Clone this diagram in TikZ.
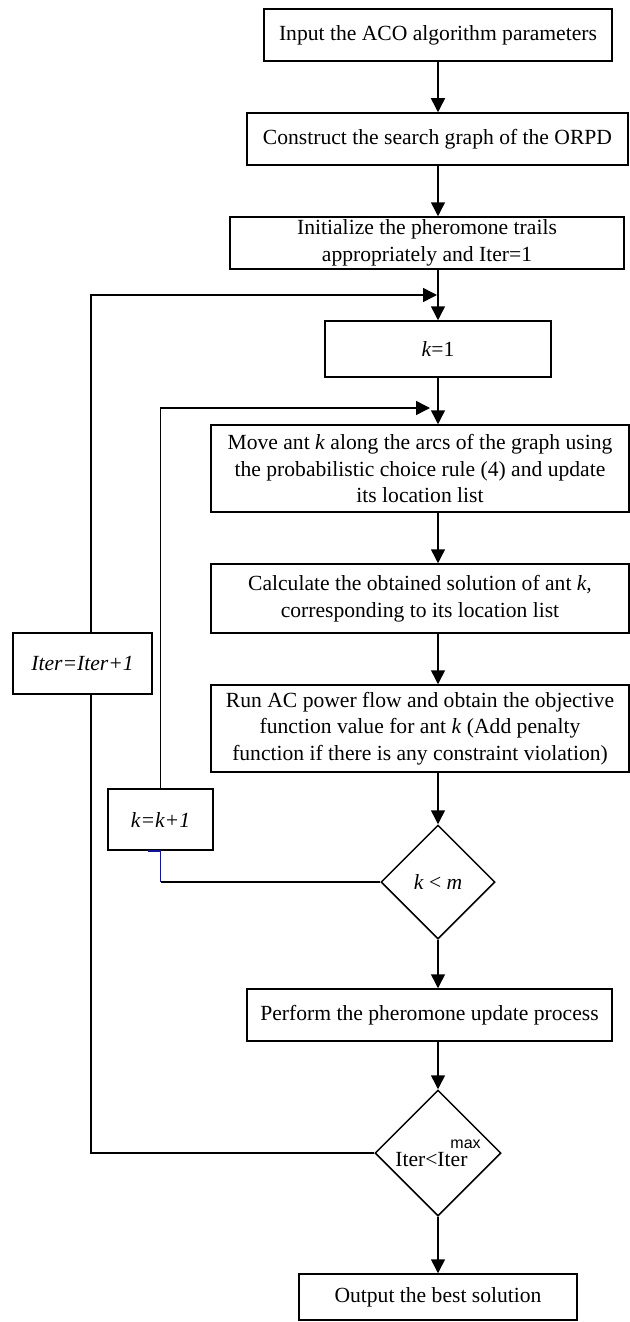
\documentclass[tikz,border=0pt]{standalone}
\usepackage{fontspec}
\setmainfont{Liberation Serif}
\newfontfamily\supfont{Liberation Sans}
\usetikzlibrary{shapes.geometric,arrows.meta}
\definecolor{segblue}{RGB}{20,20,150}

\begin{document}
\begin{tikzpicture}[x=0.5pt, y=-0.5pt, font=\fontsize{10.8}{13.3}\selectfont,
  blk/.style={draw, line width=0.75pt, inner sep=0pt, align=center},
  dec/.style={draw, diamond, line width=0.75pt, inner sep=0pt, aspect=1},
  arr/.style={line width=0.75pt, -{Triangle[length=7pt,width=7pt]}},
  ln/.style={line width=0.75pt}]
% ACO steps for the ORPD, placed at pixel positions
\useasboundingbox (0,0) rectangle (630,1322);
\node[blk, minimum width=174pt, minimum height=26pt] (inp) at (438,35) {Input the ACO algorithm parameters};
\node[blk, minimum width=190.5pt, minimum height=26pt] (cons) at (437.5,139) {Construct the search graph of the ORPD};
\node[blk, minimum width=197pt, minimum height=26pt] (init) at (427,243) {Initialize the pheromone trails\\appropriately and Iter=1};
\node[blk, minimum width=113pt, minimum height=28pt] (kone) at (438,349) {\textit{k}=1};
\node[blk, minimum width=209pt, minimum height=43.5pt] (move) at (420,468.5) {Move ant \textit{k} along the arcs of the graph using\\the probabilistic choice rule (4) and update\\its location list};
\node[blk, minimum width=209pt, minimum height=34.5pt] (calc) at (420,598.5) {Calculate the obtained solution of ant \textit{k},\\corresponding to its location list};
\node[blk, minimum width=209pt, minimum height=43.5pt] (run) at (420,728.5) {Run AC power flow and obtain the objective\\function value for ant \textit{k} (Add penalty\\function if there is any constraint violation)};
\node[dec, minimum width=57pt, minimum height=57pt] (kdec) at (438,882) {\textit{k} < \textit{m}};
\node[blk, minimum width=52.5pt, minimum height=30.5pt] (kinc) at (160.5,819.5) {\textit{k=k+1}};
\node[blk, minimum width=69.5pt, minimum height=30.5pt] (iterinc) at (82.5,663.5) {\textit{Iter=Iter+1}};
\node[blk, minimum width=182.5pt, minimum height=26pt] (perf) at (429.5,1015) {Perform the pheromone update process};
\node[dec, minimum width=63pt, minimum height=63pt] (itdec) at (438,1153) {Iter<Iter\kern-8.5pt\raisebox{9pt}{\supfont\fontsize{8}{8}\selectfont max}};
\node[blk, minimum width=139pt, minimum height=23pt] (outp) at (438,1297) {Output the best solution};
\coordinate (lpa) at (437,295);
\coordinate (lpb) at (430,408);
% main line
\draw[arr] (inp.south) -- (inp.south |- cons.north);
\draw[arr] (cons.south -| kone.north) -- (init.north -| kone.north);
\draw[arr] (init.south -| kone.north) -- (kone.north);
\draw[arr] (kone.south) -- (kone.south |- move.north);
\draw[arr] (move.south -| kone.south) -- (calc.north -| kone.south);
\draw[arr] (calc.south -| kone.south) -- (run.north -| kone.south);
\draw[arr] (run.south -| kdec.north) -- (kdec.north);
\draw[arr] (kdec.south) -- (kdec.south |- perf.north);
\draw[arr] (perf.south -| itdec.north) -- (itdec.north);
\draw[arr] (itdec.south) -- (outp.north);
% inner loop over the ants
\draw[ln] (kdec.west) -- (kinc.south |- kdec.west);
\draw[ln, segblue] (kinc.south |- kdec.west) -- (kinc.south) -- ++(-13,0);
\draw[arr] (kinc.north) |- (lpb);
% outer loop over the iterations
\draw[ln] (itdec.west) -| ([xshift=4.25pt]iterinc.south);
\draw[arr] ([xshift=4.25pt]iterinc.north) |- (lpa);
\end{tikzpicture}
\end{document}
